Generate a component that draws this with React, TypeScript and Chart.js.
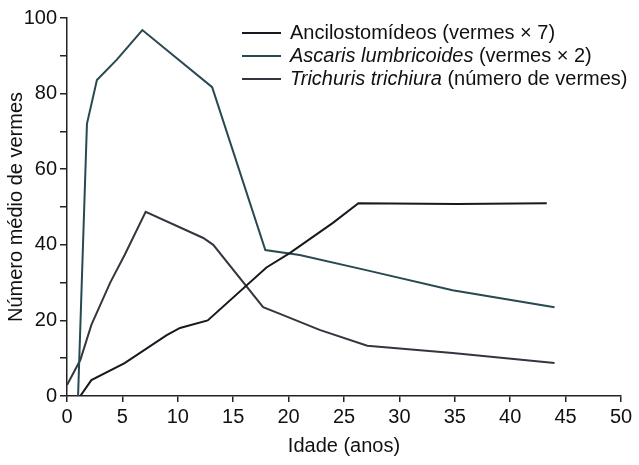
import React, { useEffect, useRef } from "react";
import { Chart, registerables } from "chart.js";

Chart.register(...registerables);

// Ancilostomídeos (vermes × 7)
const ancAge = [1.2, 2.2, 5.2, 9, 10.2, 12.7, 18, 20.1, 24, 26.3, 35.2, 43.3];
const ancVal = [0, 4.2, 8.7, 16.1, 18, 20, 34, 37.8, 45.8, 51, 50.8, 51];

// Ascaris lumbricoides (vermes × 2)
const ascAge = [1, 1.8, 2.7, 4.5, 6.8, 13.1, 17.9, 21, 27, 34.8, 44];
const ascVal = [0, 72, 83.6, 89, 96.8, 81.7, 38.6, 37.3, 33.3, 28, 23.5];

// Trichuris trichiura (número de vermes)
const triAge = [0, 1.2, 2.2, 3.9, 5.2, 7.1, 12.3, 13.2, 17.7, 19, 22.8, 27.1, 34.8, 44];
const triVal = [2.9, 9.5, 18.8, 30, 37.3, 48.7, 41.8, 40, 23.5, 22, 17.5, 13.3, 11.4, 8.7];

const legendRows = [
  { color: "#16191f", parts: [{ t: "Ancilostomídeos", i: false }, { t: " (vermes × 7)", i: false }] },
  { color: "#284852", parts: [{ t: "Ascaris lumbricoides", i: true }, { t: " (vermes × 2)", i: false }] },
  { color: "#33363f", parts: [{ t: "Trichuris trichiura", i: true }, { t: " (número de vermes)", i: false }] },
];

const FONT = "'Liberation Sans', Arial, Helvetica, sans-serif";

const toPts = (xs: number[], ys: number[]) => xs.map((x, i) => ({ x, y: ys[i] }));

export default function App() {
  const ref = useRef<HTMLCanvasElement | null>(null);

  useEffect(() => {
    document.body.style.margin = "0";
    const canvas = ref.current;
    if (!canvas) return;

    const legendPlugin = {
      id: "customLegend",
      afterDraw(chart: any) {
        const ctx = chart.ctx;
        ctx.save();
        legendRows.forEach((row, r) => {
          const y = 33 + r * 23;
          ctx.strokeStyle = row.color;
          ctx.lineWidth = 2;
          ctx.beginPath();
          ctx.moveTo(242, y);
          ctx.lineTo(281, y);
          ctx.stroke();
          let x = 290;
          ctx.fillStyle = "#111";
          ctx.textBaseline = "middle";
          ctx.textAlign = "left";
          row.parts.forEach((p) => {
            ctx.font = `${p.i ? "italic " : ""}20px ${FONT}`;
            ctx.fillText(p.t, x, y);
            x += ctx.measureText(p.t).width;
          });
        });
        ctx.restore();
      },
    };

    const chart = new Chart(canvas, {
      type: "line",
      data: {
        datasets: [
          {
            label: "Ancilostomídeos (vermes × 7)",
            data: toPts(ancAge, ancVal),
            borderColor: legendRows[0].color,
            borderWidth: 2,
            pointRadius: 0,
            tension: 0,
          },
          {
            label: "Ascaris lumbricoides (vermes × 2)",
            data: toPts(ascAge, ascVal),
            borderColor: legendRows[1].color,
            borderWidth: 2,
            pointRadius: 0,
            tension: 0,
          },
          {
            label: "Trichuris trichiura (número de vermes)",
            data: toPts(triAge, triVal),
            borderColor: legendRows[2].color,
            borderWidth: 2,
            pointRadius: 0,
            tension: 0,
          },
        ],
      },
      options: {
        responsive: false,
        animation: false,
        layout: { padding: { left: 0, top: 18, right: 18, bottom: 0 } },
        plugins: {
          legend: { display: false },
          tooltip: { enabled: false },
        },
        scales: {
          x: {
            type: "linear",
            min: 0,
            max: 50,
            afterFit: (s: any) => {
              s.height = 69;
            },
            ticks: {
              stepSize: 5,
              color: "#111",
              font: { family: FONT, size: 20 },
              padding: 3,
              maxRotation: 0,
            },
            grid: {
              drawOnChartArea: false,
              drawTicks: true,
              tickLength: 6,
              color: "#222",
              lineWidth: 1.5,
            },
            border: { display: true, color: "#222", width: 1.5 },
            title: {
              display: true,
              text: "Idade (anos)",
              color: "#111",
              font: { family: FONT, size: 20 },
              padding: { top: 0, bottom: 7 },
            },
          },
          y: {
            type: "linear",
            min: 0,
            max: 100,
            afterFit: (s: any) => {
              s.width = 67;
            },
            ticks: {
              stepSize: 10,
              color: "#111",
              font: { family: FONT, size: 20 },
              padding: 3,
              callback: (v: any) => (Number(v) % 20 === 0 ? String(v) : ""),
            },
            grid: {
              drawOnChartArea: false,
              drawTicks: true,
              tickLength: 7,
              color: "#222",
              lineWidth: 1.5,
            },
            border: { display: true, color: "#222", width: 1.5 },
            title: {
              display: true,
              text: "Número médio de vermes",
              color: "#111",
              font: { family: FONT, size: 20 },
              padding: { top: 4, bottom: 0 },
            },
          },
        },
      },
      plugins: [legendPlugin],
    });

    return () => chart.destroy();
  }, []);

  return (
    <div style={{ width: 639, height: 465, background: "#fff" }}>
      <canvas ref={ref} width={639} height={465} />
    </div>
  );
}
